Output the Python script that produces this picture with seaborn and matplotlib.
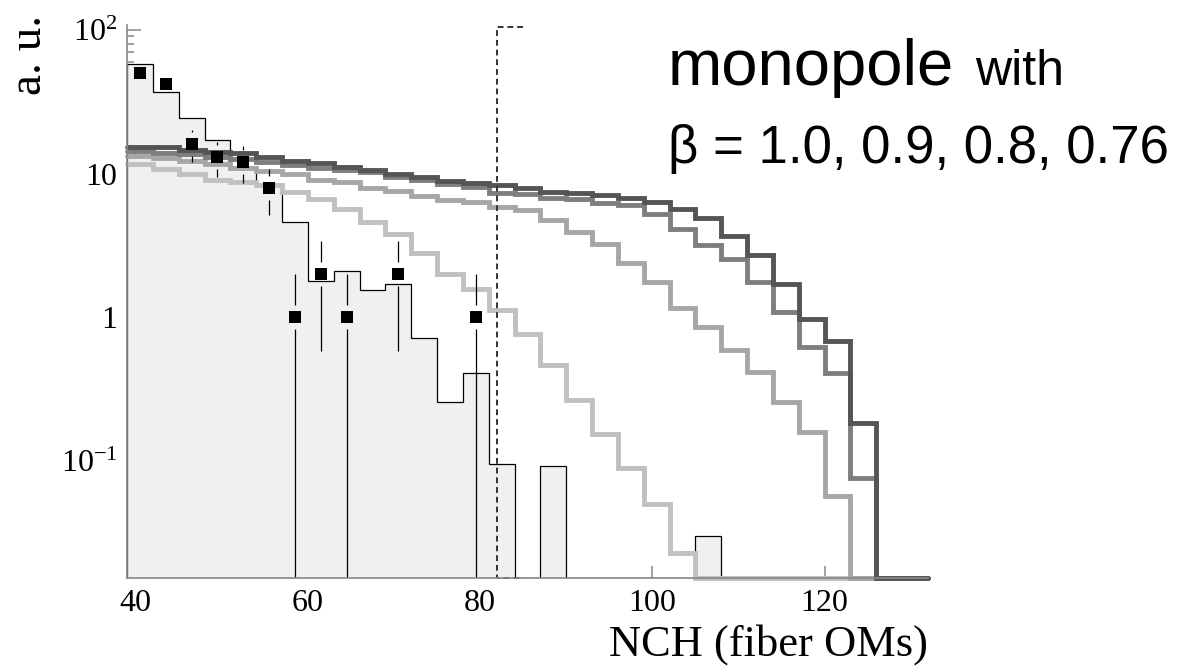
import numpy as np
import matplotlib
matplotlib.use("Agg")
import matplotlib.pyplot as plt
import seaborn as sns
from matplotlib.ticker import LogLocator, NullFormatter, FixedLocator

# ---------------- data ----------------
bin_edges = [39, 42, 45, 48, 51, 54, 57, 60, 63, 66, 69, 72, 75, 78, 81, 84,
             87, 90, 93, 96, 99, 102, 105, 108, 111, 114, 117, 120, 123, 126,
             129, 132]

# background MC (filled grey histogram)
mc_background = [58, 37, 24.5, 17.2, 11.0, 8.5, 4.6, 1.8, 2.1, 1.55, 1.7, 0.72,
                 0.26, 0.41, 0.095, 0, 0.092, 0, 0, 0, 0, 0, 0.03, 0, 0, 0, 0,
                 0, 0, 0, 0]

# monopole signal histograms
mono_beta_100 = [15.4, 15.2, 14.7, 14.2, 13.8, 13.1, 12.3, 11.8, 11.2, 10.6, 10.0,
                 9.4, 8.9, 8.6, 8.3, 8.0, 7.5, 7.3, 7.1, 6.8, 6.35, 5.7, 4.9, 3.7,
                 2.7, 1.7, 0.98, 0.69, 0.185, 0, 0]
mono_beta_090 = [14.4, 14.0, 13.6, 13.1, 12.6, 12.0, 11.4, 11.0, 10.6, 10.2, 9.4,
                 9.0, 8.5, 8.1, 7.3, 7.2, 6.8, 6.65, 6.25, 6.0, 5.2, 4.13, 3.2,
                 2.55, 1.76, 1.09, 0.62, 0.41, 0.076, 0, 0]
mono_beta_080 = [13.3, 12.9, 12.3, 11.7, 11.0, 10.5, 10.0, 9.0, 8.7, 8.0, 7.6, 7.0,
                 6.6, 6.3, 5.85, 5.55, 4.75, 3.9, 3.25, 2.4, 1.75, 1.16, 0.86,
                 0.59, 0.42, 0.26, 0.16, 0.057, 0, 0, 0]
mono_beta_076 = [11.6, 10.8, 10.0, 9.0, 8.8, 8.3, 7.5, 6.7, 5.7, 4.6, 3.8, 2.8, 2.0,
                 1.58, 1.13, 0.77, 0.47, 0.265, 0.155, 0.09, 0.05, 0.023, 0, 0, 0,
                 0, 0, 0, 0, 0, 0]

# experimental data points (counts)
data_x = [40.5, 43.5, 46.5, 49.5, 52.5, 55.5, 58.5, 61.5, 64.5, 70.5, 79.5]
data_n = [50, 42, 16, 13, 12, 8, 1, 2, 1, 2, 1]

# cut indicator (dashed)
cut_lo, cut_hi, cut_level = 82, 85, 105

y_ticks = [0.1, 1, 10, 100]
y_ticklabels = ["10$^{-1}$", "1", "10", "10$^{2}$"]
x_ticks = [40, 60, 80, 100, 120]

# ---------------- style ----------------
sns.set_theme(style="ticks")
plt.rcParams["font.family"] = ["Liberation Serif", "DejaVu Serif"]
plt.rcParams["mathtext.fontset"] = "custom"
plt.rcParams["mathtext.rm"] = "Liberation Serif"
plt.rcParams["mathtext.it"] = "Liberation Serif:italic"
plt.rcParams["text.color"] = "black"
plt.rcParams["xtick.labelcolor"] = "black"
plt.rcParams["ytick.labelcolor"] = "black"

W, H = 1196, 670
fig = plt.figure(figsize=(W / 100, H / 100), dpi=100)
fig.patch.set_facecolor("white")
ax_l, ax_r, ax_t, ax_b = 127, 928, 25, 578
ax = fig.add_axes([ax_l / W, 1 - ax_b / H, (ax_r - ax_l) / W, (ax_b - ax_t) / H])
ax.set_facecolor("white")
ax.set_yscale("log")
ymin, ymax = 0.0154, 108
ax.set_xlim(bin_edges[0], bin_edges[-1])
ax.set_ylim(ymin, ymax)

edges = np.array(bin_edges, dtype=float)

def floor(v):
    v = np.asarray(v, dtype=float)
    return np.where(v > 0, v, ymin)

# MC background
mc = floor(mc_background)
ax.stairs(mc, edges, baseline=ymin, fill=True, color="#f0f0f0", zorder=1)
ax.stairs(mc, edges, baseline=ymin, fill=False, color="black", lw=0.9, zorder=2)

# monopole curves
curves = [(mono_beta_076, "#c0c0c0"), (mono_beta_080, "#a6a6a6"),
          (mono_beta_090, "#7e7e7e"), (mono_beta_100, "#555555")]
for i, (vals, col) in enumerate(curves):
    v = floor(vals)
    yv = np.append(v, v[-1])
    sns.lineplot(x=edges, y=yv, ax=ax, drawstyle="steps-post", color=col,
                 lw=3.5, estimator=None, sort=False, errorbar=None,
                 clip_on=False, zorder=3 + i * 0.1, solid_joinstyle="miter")

# data points with gapped error bars
gap = 12
for x, n in zip(data_x, data_n):
    err = np.sqrt(n)
    up, lo = n + err, max(n - err, ymin)
    px, py = ax.transData.transform((x, n))
    _, y_gu = ax.transData.inverted().transform((px, py + gap))
    _, y_gl = ax.transData.inverted().transform((px, py - gap))
    if up > y_gu:
        ax.vlines(x, y_gu, up, color="black", lw=0.9, zorder=5)
    if lo < y_gl:
        ax.vlines(x, lo, y_gl, color="black", lw=0.9, zorder=5)
sns.scatterplot(x=data_x, y=data_n, ax=ax, marker="s", s=80, color="black",
                edgecolor="black", linewidth=0, zorder=6)

# dashed cut box
ax.plot([cut_hi, cut_lo, cut_lo, cut_hi], [cut_level, cut_level, ymin, ymin],
        ls=(0, (3.0, 2.0)), color="#333333", lw=1.4, zorder=7, clip_on=False)

# axes styling
for s in ["top", "right"]:
    ax.spines[s].set_visible(False)
for s in ["left", "bottom"]:
    ax.spines[s].set_color("#888888")
    ax.spines[s].set_linewidth(1.2)
    ax.spines[s].set_zorder(8)

ax.xaxis.set_major_locator(FixedLocator(x_ticks))
ax.set_xticklabels([str(t) for t in x_ticks])
ax.yaxis.set_major_locator(FixedLocator(y_ticks))
ax.set_yticklabels(y_ticklabels)
ax.yaxis.set_minor_locator(LogLocator(base=10, subs=np.arange(2, 10)))
ax.yaxis.set_minor_formatter(NullFormatter())
ax.tick_params(axis="y", which="major", direction="in", length=10, width=1.1,
               color="#888888", labelsize=23, pad=7, labelcolor="black")
ax.tick_params(axis="y", which="minor", direction="in", length=5, width=1.1,
               color="#888888")
ax.tick_params(axis="x", which="major", direction="in", length=8.5, width=1.1,
               color="#888888", labelsize=23, pad=8, labelcolor="black")
ax.tick_params(axis="x", which="minor", bottom=False)
ax.set_xlabel("")
ax.set_ylabel("")
if ax.get_legend():
    ax.get_legend().remove()

# labels
fig.text(928 / W, 1 - 645 / H, "NCH (fiber OMs)", ha="right", va="center",
         fontsize=32, family="Liberation Serif", color="black")
fig.text(30 / W, 1 - 15 / H, "a. u.", ha="center", va="top", rotation=90,
         fontsize=34, family="Liberation Serif", color="black")

# annotation
fig.text(668 / W, 1 - 85 / H, "monopole", ha="left", va="baseline",
         fontsize=47, family="Liberation Sans", color="black")
fig.text(975 / W, 1 - 85 / H, "with", ha="left", va="baseline",
         fontsize=36, family="Liberation Sans", color="black")
fig.text(668 / W, 1 - 163 / H, "β = 1.0, 0.9, 0.8, 0.76", ha="left",
         va="baseline", fontsize=38, family=["Liberation Sans", "DejaVu Sans"],
         color="black")

fig.savefig("out.png", dpi=100, facecolor="white")
